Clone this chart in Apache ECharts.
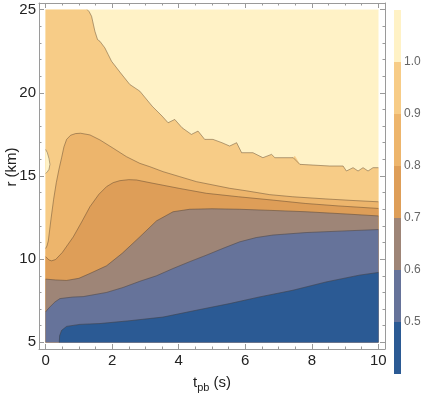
<!DOCTYPE html>
<html><head><meta charset="utf-8">
<script src="https://cdn.jsdelivr.net/npm/echarts@6/dist/echarts.min.js"></script>
<style>html,body{margin:0;padding:0;background:#fff}#c{width:421px;height:393px}</style>
</head><body><div id="c"></div>
<script>
// ---- tick labels ----
const xTicks = [0, 2, 4, 6, 8, 10];
const xMinorTicks = [0.5, 1, 1.5, 2.5, 3, 3.5, 4.5, 5, 5.5, 6.5, 7, 7.5, 8.5, 9, 9.5];
const yTicks = [5, 10, 15, 20, 25];
const yMinorTicks = [6, 7, 8, 9, 11, 12, 13, 14, 16, 17, 18, 19, 21, 22, 23, 24];
const levels = [0.4, 0.5, 0.6, 0.7, 0.8, 0.9, 1.0, 1.1];
const levelLabels = [0.5, 0.6, 0.7, 0.8, 0.9, 1.0];
const bandColors = ['#2B5A94', '#66739A', '#9E8577', '#DE9E58', '#EDB56C', '#F7CC87', '#FFF2C6'];

// ---- contour lines, [t_pb (s), r (km)] ----
const contour10 = [[1.25,25.0],[1.31,24.87],[1.38,24.6],[1.48,23.7],[1.56,23.2],[1.63,23.1],[1.78,22.7],[1.88,22.3],[1.98,21.9],
  [2.25,21.2],[2.53,20.5],[2.83,20.1],[3.2,19.2],[3.5,18.6],[3.68,18.2],[3.88,18.4],[4.1,17.9],[4.38,17.5],[4.58,17.7],
  [4.78,17.2],[5.03,17.2],[5.3,17.0],[5.53,16.8],[5.74,17.0],[5.89,16.4],[6.23,16.4],[6.53,16.1],[6.79,16.3],[6.89,16.1],
  [7.44,16.1],[7.49,16.2],[7.64,15.7],[8.54,15.6],[8.94,15.6],[9.04,15.3],[9.24,15.5],[9.39,15.3],[9.54,15.5],[9.69,15.3],
  [9.84,15.5],[10,15.5]];
const bump10 = [[0,16.6],[0.05,16.4],[0.1,16.05],[0.13,15.7],[0.1,15.4],[0.05,15.25],[0,15.15]];
const contour9 = [[0,10.64],[0.04,10.8],[0.08,11.1],[0.16,12.4],[0.24,13.6],[0.32,14.6],[0.4,15.4],[0.48,16.1],[0.55,16.75],
  [0.63,17.2],[0.75,17.45],[0.9,17.55],[1.05,17.57],[1.33,17.47],[1.63,17.17],[2.03,16.67],[2.43,16.16],[2.83,15.76],
  [3.13,15.56],[3.53,15.26],[4.03,14.96],[4.53,14.66],[5.03,14.46],[5.53,14.26],[6.03,14.11],[6.73,13.88],[7.43,13.75],
  [8.43,13.62],[9.3,13.52],[10,13.45]];
const contour8 = [[0,10.15],[0.1,9.95],[0.18,9.9],[0.3,9.98],[0.5,10.4],[0.83,11.34],[1.1,12.3],[1.33,13.15],[1.6,13.9],
  [1.83,14.36],[2.03,14.6],[2.23,14.72],[2.5,14.78],[2.73,14.76],[3.23,14.56],[4.03,14.25],[4.83,13.96],[5.8,13.75],
  [6.83,13.55],[7.8,13.35],[8.8,13.2],[10,13.05]];
const contour7 = [[0,8.8],[0.3,8.75],[0.63,8.72],[1.0,8.85],[1.33,9.14],[1.83,9.6],[2.3,10.35],[2.83,11.34],[3.33,12.3],
  [3.83,12.85],[4.33,13.0],[5.0,13.03],[5.83,13.0],[6.8,12.93],[7.83,12.85],[9.0,12.72],[10,12.6]];
const contour6 = [[0,6.83],[0.08,7.03],[0.28,7.43],[0.43,7.63],[0.8,7.72],[1.13,7.75],[1.83,8.0],[2.33,8.3],[2.83,8.67],
  [3.33,9.0],[3.83,9.44],[4.33,9.85],[4.83,10.24],[5.33,10.65],[5.83,11.04],[6.33,11.3],[6.83,11.45],[7.83,11.6],
  [9.0,11.7],[10,11.78]];
const contour5 = [[0.41,5.0],[0.42,5.4],[0.48,5.72],[0.63,5.96],[1.03,6.08],[1.63,6.13],[2.53,6.3],[3.53,6.52],[4.53,6.93],
  [5.53,7.33],[6.43,7.73],[7.43,8.13],[8.43,8.63],[9.43,9.04],[10,9.2]];

const tMin = 0, tMax = 10, rMin = 5, rMax = 25;

// painter-order polygons (region below each contour)
const polys = [
  {pts: [[tMin,rMin],[tMax,rMin],[tMax,rMax],[tMin,rMax]], color: bandColors[6]},
  {pts: [[tMin,rMax]].concat(contour10, [[tMax,rMin],[tMin,rMin]]), color: bandColors[5]},
  {pts: bump10, color: bandColors[6]},
  {pts: contour9.concat([[tMax,rMin],[tMin,rMin]]), color: bandColors[4]},
  {pts: contour8.concat([[tMax,rMin],[tMin,rMin]]), color: bandColors[3]},
  {pts: contour7.concat([[tMax,rMin],[tMin,rMin]]), color: bandColors[2]},
  {pts: contour6.concat([[tMax,rMin],[tMin,rMin]]), color: bandColors[1]},
  {pts: contour5.concat([[tMax,rMin]]), color: bandColors[0]}
];
const lines = [contour10, bump10, contour9, contour8, contour7, contour6, contour5];

const FONT = "'Liberation Sans', Arial, sans-serif";
const frameColor = '#9a9a9a';

function mkX(pos, opts) {
  return Object.assign({
    type: 'value', gridIndex: 0, position: pos, min: -0.2, max: 10.2,
    axisLine: {show: false, onZero: false, lineStyle: {color: frameColor, width: 1}},
    axisTick: {show: false}, axisLabel: {show: false}, splitLine: {show: false}
  }, opts);
}
function mkY(pos, opts) {
  return Object.assign({
    type: 'value', gridIndex: 0, position: pos, min: 4.6, max: 25.4,
    axisLine: {show: false, onZero: false, lineStyle: {color: frameColor, width: 1}},
    axisTick: {show: false}, axisLabel: {show: false}, splitLine: {show: false}
  }, opts);
}
const majTick = (vals) => ({show: true, inside: true, length: 5, customValues: vals, lineStyle: {color: frameColor}});
const minTick = (vals) => ({show: true, inside: true, length: 2.5, customValues: vals, lineStyle: {color: frameColor}});

const chart = echarts.init(document.getElementById('c'), null, {renderer: 'canvas'});
chart.setOption({
  animation: false,
  backgroundColor: '#fff',
  grid: [
    {left: 39, right: 36, top: 3, bottom: 44, outerBoundsMode: 'none', containLabel: false},
    {left: 394, width: 7, top: 10, height: 364, outerBoundsMode: 'none', containLabel: false}
  ],
  xAxis: [
    mkX('bottom', {
      axisLine: {show: true, onZero: false, lineStyle: {color: frameColor}},
      axisTick: majTick(xTicks),
      axisLabel: {show: true, customValues: xTicks, margin: 4, color: '#222', fontSize: 15, fontFamily: FONT},
      name: '{a|t}{b|pb}{a| (s)}', nameLocation: 'middle', nameGap: 24,
      nameTextStyle: {color: '#222', fontFamily: FONT, rich: {
        a: {fontSize: 15, lineHeight: 20, fontFamily: FONT, color: '#222'},
        b: {fontSize: 11, lineHeight: 14, verticalAlign: 'bottom', fontFamily: FONT, color: '#222'}
      }}
    }),
    mkX('bottom', {axisTick: minTick(xMinorTicks)}),
    mkX('top', {axisLine: {show: true, onZero: false, lineStyle: {color: frameColor}}, axisTick: majTick(xTicks)}),
    mkX('top', {axisTick: minTick(xMinorTicks)}),
    {type: 'value', gridIndex: 1, min: 0, max: 1, show: false}
  ],
  yAxis: [
    mkY('left', {
      axisLine: {show: true, onZero: false, lineStyle: {color: frameColor}},
      axisTick: majTick(yTicks),
      axisLabel: {show: true, customValues: yTicks, margin: 3, color: '#222', fontSize: 15, fontFamily: FONT},
      name: 'r (km)', nameLocation: 'middle', nameGap: 20, nameMoveOverlap: false,
      nameTextStyle: {color: '#222', fontSize: 15, fontFamily: FONT, padding: [0, 0, 0, 18]}
    }),
    mkY('left', {axisTick: minTick(yMinorTicks)}),
    mkY('right', {axisLine: {show: true, onZero: false, lineStyle: {color: frameColor}}, axisTick: majTick(yTicks)}),
    mkY('right', {axisTick: minTick(yMinorTicks)}),
    {type: 'value', gridIndex: 1, position: 'right', min: 0.4, max: 1.1,
      axisLine: {show: false, onZero: false},
      axisTick: {show: true, inside: true, length: 7, customValues: levelLabels, lineStyle: {color: 'rgba(90,90,90,0.6)'}},
      axisLabel: {show: true, customValues: levelLabels, margin: 3, color: '#666', fontSize: 12, fontFamily: FONT,
        formatter: v => Number(v).toFixed(1)},
      splitLine: {show: false}}
  ],
  series: [
    {
      type: 'custom', xAxisIndex: 0, yAxisIndex: 0, silent: true, clip: true, z: 1,
      data: [[0, 5]],
      renderItem: function (params, api) {
        return {type: 'group', children: polys.map(p => ({
          type: 'polygon', shape: {points: p.pts.map(v => api.coord(v))},
          style: {fill: p.color, stroke: p.color, lineWidth: 0.3}
        }))};
      }
    },
    ...lines.map(l => ({
      type: 'line', xAxisIndex: 0, yAxisIndex: 0, data: l, showSymbol: false, symbol: 'none', silent: true, z: 3,
      lineStyle: {color: 'rgba(70,55,40,0.45)', width: 0.9}
    })),
    {
      type: 'custom', xAxisIndex: 4, yAxisIndex: 4, silent: true, z: 1,
      data: levels.slice(0, -1).map((v, i) => [i, v]),
      renderItem: function (params, api) {
        const i = params.dataIndex;
        const p0 = api.coord([0, levels[i]]);
        const p1 = api.coord([1, levels[i + 1]]);
        return {type: 'rect', shape: {x: p0[0], y: p1[1], width: p1[0] - p0[0], height: p0[1] - p1[1]},
          style: {fill: bandColors[i]}};
      }
    }
  ]
});
</script></body></html>
